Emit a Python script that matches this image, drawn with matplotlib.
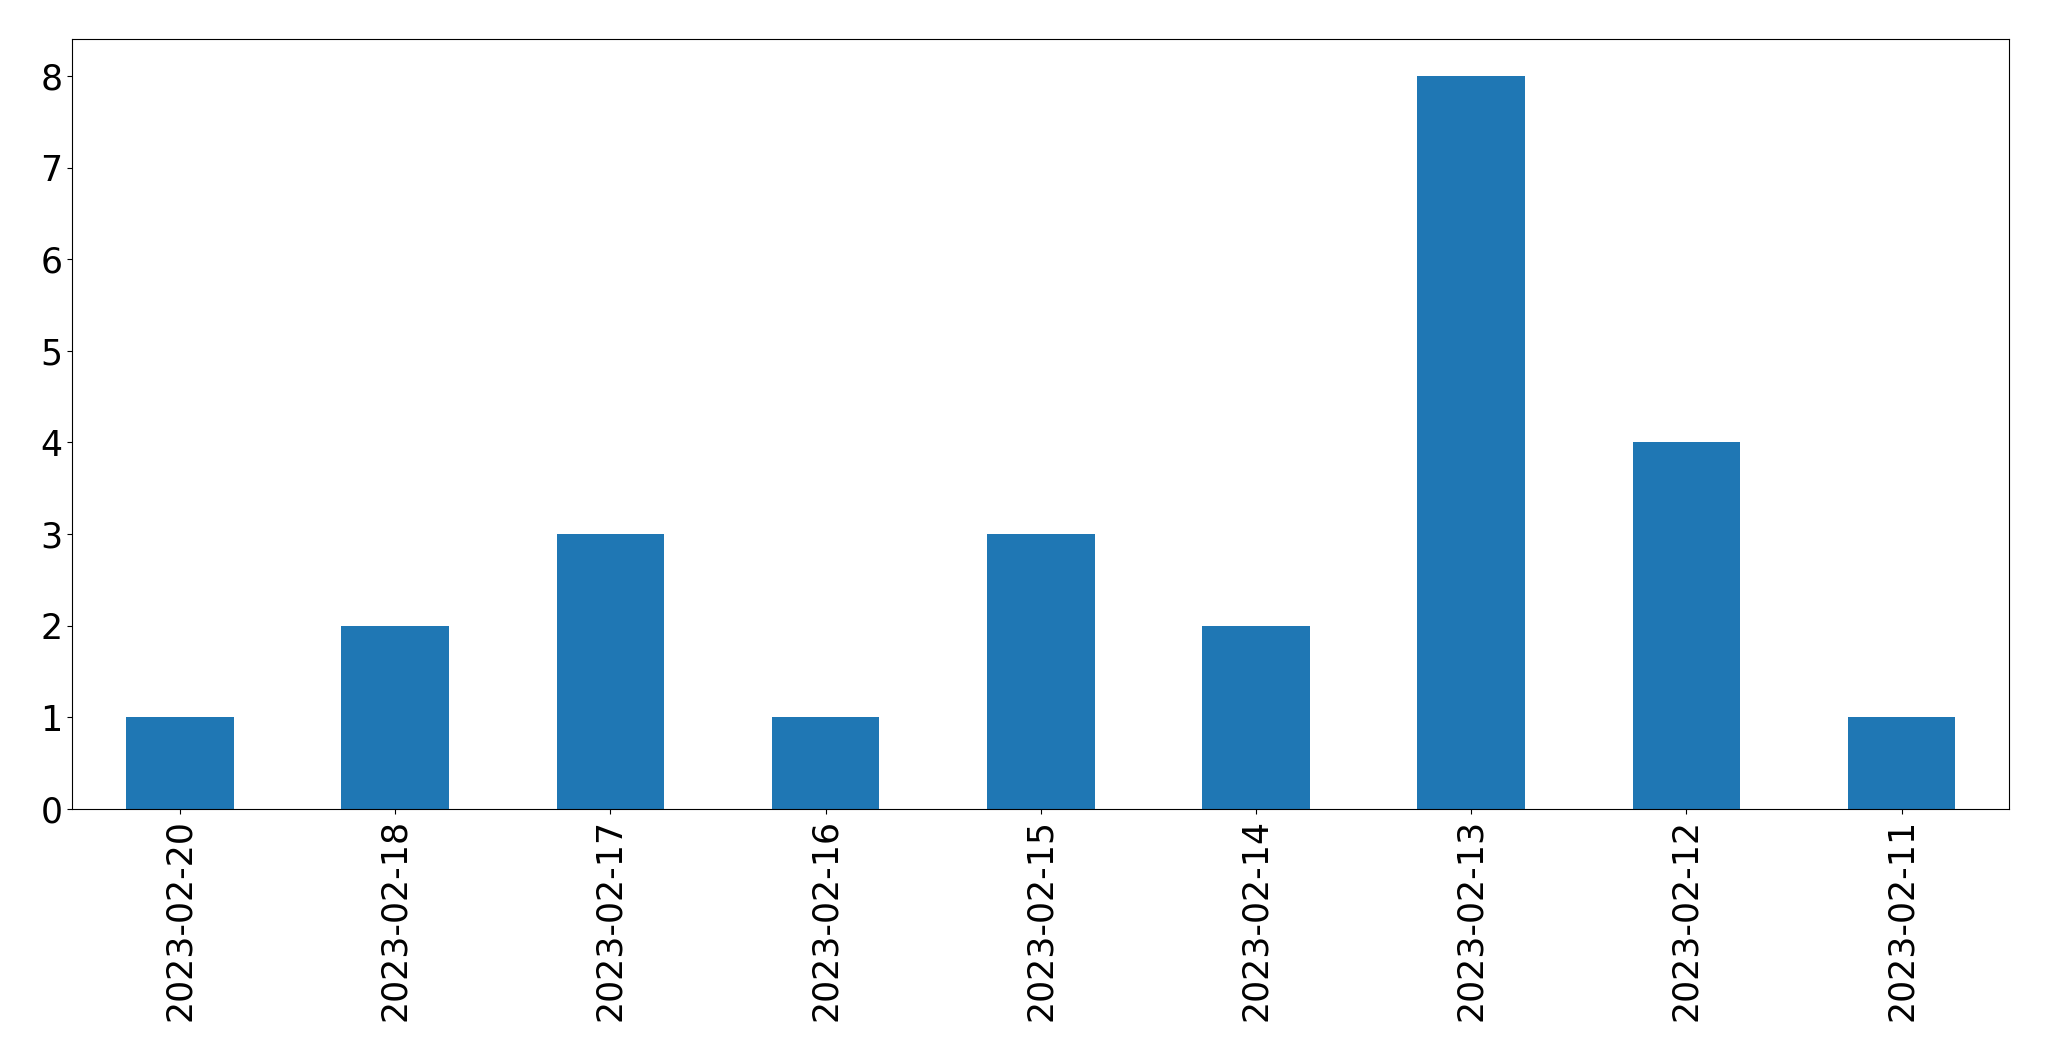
import matplotlib
matplotlib.use("Agg")
import matplotlib.pyplot as plt
import numpy as np

# Counts per day
dates = ["2023-02-20", "2023-02-18", "2023-02-17", "2023-02-16", "2023-02-15",
         "2023-02-14", "2023-02-13", "2023-02-12", "2023-02-11"]
counts = [1, 2, 3, 1, 3, 2, 8, 4, 1]

W, H = 2049, 1061
fig = plt.figure(figsize=(W / 100, H / 100), dpi=100)
ax = fig.add_axes([72.3 / W, (H - 809) / H, 1937 / W, 769.7 / H])

x = np.arange(len(dates))
ax.bar(x, counts, width=0.5, color="#1f77b4")
ax.set_xlim(-0.5, len(dates) - 0.5)
ax.set_ylim(0, max(counts) * 1.05)
ax.set_xticks(x)
ax.set_xticklabels(dates, rotation=90)
ax.tick_params(labelsize=25)

fig.savefig("out.png", dpi=100)
